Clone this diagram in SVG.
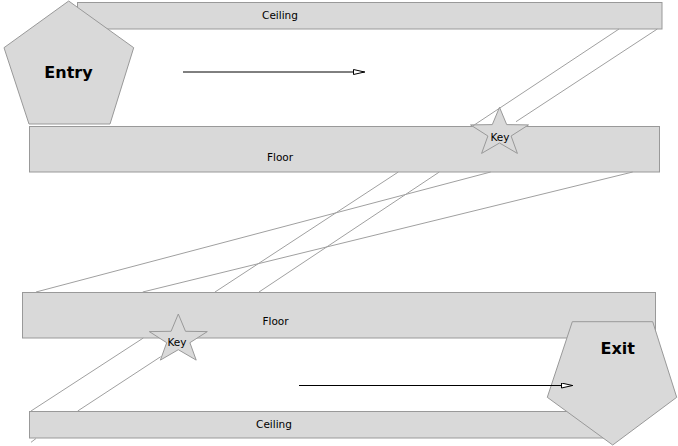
<svg xmlns="http://www.w3.org/2000/svg" xmlns:xlink="http://www.w3.org/1999/xlink" width="678" height="446" viewBox="0 0 678 446">
<style>
.box{fill:#d9d9d9;stroke:#999999;stroke-width:1}
.lbl{font-family:"DejaVu Sans","Liberation Sans",sans-serif;font-size:10.5px;fill:#000;text-anchor:middle}
.big{font-family:"DejaVu Sans","Liberation Sans",sans-serif;font-size:16px;font-weight:bold;fill:#000;text-anchor:middle}
.wire{stroke:#a0a0a0;stroke-width:1;fill:none}
.arrow{stroke:#000;stroke-width:1;fill:none;marker-end:url(#open)}
</style>
<defs>
<marker id="open" viewBox="0 0 12 6" markerWidth="12" markerHeight="6" refX="12" refY="3" orient="auto" markerUnits="userSpaceOnUse">
<path d="M0.5,0.5 L11.5,3 L0.5,5.5 Z" fill="#ffffff" stroke="#000" stroke-width="1"/>
</marker>
<polygon id="star" points="0,-25.5 7.2,-8.2 29,-7.9 11.6,3.2 17.9,20.6 0,10.2 -17.9,20.6 -11.6,3.2 -29,-7.9 -7.2,-8.2"/>
</defs>
<rect width="678" height="446" fill="#ffffff"/>
<g id="ceiling-top">
<rect class="box" x="77.5" y="2.5" width="584.5" height="26.5"/>
<text class="lbl" x="280" y="19">Ceiling</text>
</g>
<g id="floor-top">
<rect class="box" x="29.5" y="126.5" width="630" height="45.5"/>
<text class="lbl" x="280" y="161">Floor</text>
</g>
<g id="floor-bottom">
<rect class="box" x="22.5" y="292.5" width="633" height="45.5"/>
<text class="lbl" x="275.5" y="325">Floor</text>
</g>
<g id="ceiling-bottom">
<rect class="box" x="29.5" y="411.5" width="585" height="26.5"/>
<text class="lbl" x="274" y="428">Ceiling</text>
</g>
<g id="key-top">
<use xlink:href="#star" href="#star" class="box" transform="translate(499.5,132.8)"/>
<text class="lbl" x="500" y="140.5">Key</text>
</g>
<g id="key-bottom">
<use xlink:href="#star" href="#star" class="box" transform="translate(178.3,339.5)"/>
<text class="lbl" x="177" y="345.5">Key</text>
</g>
<g id="entry">
<polygon class="box" points="68.7,1 133.7,47.7 110,124 29,124 4,47.7"/>
<text class="big" x="68.5" y="78">Entry</text>
</g>
<g id="exit">
<polygon class="box" points="572.3,321.7 652.7,321.7 676.7,397.3 612.7,445 547.3,397.3"/>
<text class="big" x="617.7" y="353.5">Exit</text>
</g>
<g id="connectors">
<line class="wire" x1="619" y1="29" x2="472.7" y2="126"/>
<line class="wire" x1="657.3" y1="29" x2="516" y2="121.7"/>
<line class="wire" x1="398.3" y1="172" x2="215" y2="292"/>
<line class="wire" x1="439.3" y1="172" x2="259" y2="292"/>
<line class="wire" x1="490.7" y1="172" x2="36" y2="292"/>
<line class="wire" x1="632.7" y1="172" x2="142.7" y2="292"/>
<line class="wire" x1="143.3" y1="338" x2="31" y2="411"/>
<line class="wire" x1="160.7" y1="356.7" x2="77.7" y2="411"/>
<line class="wire" x1="36" y1="438.5" x2="31" y2="442.3"/>
<line class="arrow" x1="183" y1="72" x2="365" y2="72"/>
<line class="arrow" x1="299" y1="385.5" x2="573" y2="385.5"/>
</g>
</svg>
